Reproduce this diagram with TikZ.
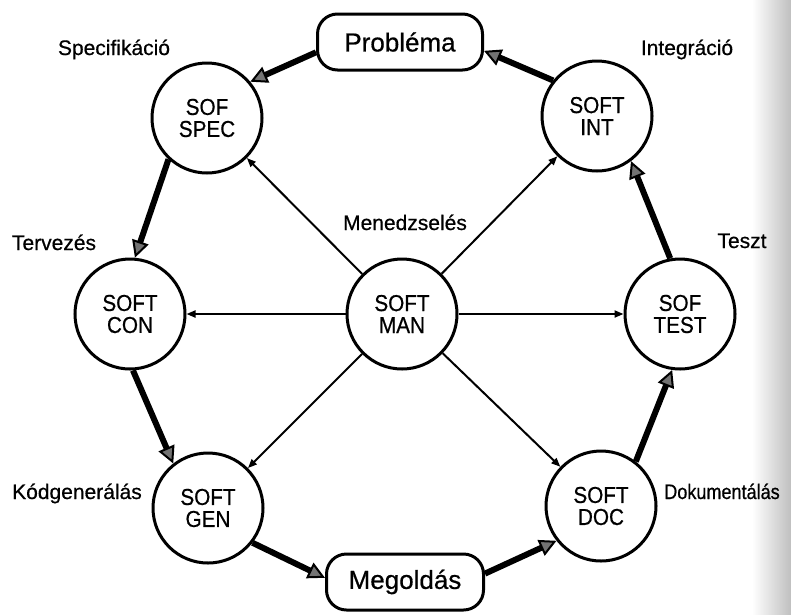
\documentclass[tikz,border=0pt]{standalone}
\usepackage{fontspec}
\setmainfont[FakeBold=0.6]{Liberation Sans}
\newfontfamily\circfont[FakeStretch=0.9,FakeBold=0.6]{Liberation Sans}
\newfontfamily\narrowfont[FakeStretch=0.86,FakeBold=0.6]{Liberation Sans}
\usetikzlibrary{arrows.meta}
\begin{document}
\begin{tikzpicture}[x=1pt,y=-1pt,
  phase/.style={circle, draw, fill=white, line width=3pt, minimum size=110pt, inner sep=0pt,
    align=center, font=\circfont\fontsize{23}{22}\selectfont},
  endbox/.style={rectangle, rounded corners=20pt, draw, fill=white, line width=3pt,
    minimum height=56pt, font=\fontsize{26}{30}\selectfont},
  tag/.style={anchor=base, font=\fontsize{21}{24}\selectfont},
  flow/.style={line width=6pt, -{Triangle[length=17pt,width=17pt,fill=black!55,line width=2pt]}},
  ctrl/.style={line width=2pt, -{Triangle[length=9pt,width=7pt]}},
]
\useasboundingbox (0,0) rectangle (791,614);
% worn paper edge on the right
\shade[left color=white, right color=black!25] (752,0) rectangle (791,614);

% start and end of the cycle
\node[endbox, minimum width=165pt] (prob) at (400,42) {Probléma};
\node[endbox, minimum width=157pt] (meg) at (405,582) {Megoldás};

% phases
\node[phase] (spec) at (207,118) {SOF\\SPEC};
\node[phase] (int)  at (597,116) {SOFT\\INT};
\node[phase] (con)  at (130,314) {SOFT\\CON};
\node[phase] (man)  at (402,314) {SOFT\\MAN};
\node[phase] (test) at (680,314) {SOF\\TEST};
\node[phase] (gen)  at (208,508) {SOFT\\GEN};
\node[phase] (doc)  at (601,506) {SOFT\\DOC};

% phase names
\node[tag] (lspec) at (114,55)  {Specifikáció};
\node[tag] (lcon)  at (54,250)  {Tervezés};
\node[tag] (lman)  at (405,230) {Menedzselés};
\node[tag] (lint)  at (687,55)  {Integráció};
\node[tag] (ltest) at (742,248) {Teszt};
\node[tag] (lgen)  at (77,499)  {Kódgenerálás};
\node[tag, font=\narrowfont\fontsize{21}{24}\selectfont] (ldoc) at (722,499) {Dokumentálás};

% main flow
\draw[flow] (prob.187) -- (spec.40);
\draw[flow] (spec.227) -- (con.85);
\draw[flow] (con.273)  -- (gen.128);
\draw[flow] (gen.322)  -- (meg.177);
\draw[flow] (meg.6)    -- (doc.218);
\draw[flow] (doc.52)   -- (test.262);
\draw[flow] (test.100) -- (int.307);
\draw[flow] (int.141)  -- (prob.354);

% management links
\foreach \t in {spec,int,con,test,gen,doc}
  \draw[ctrl] (man) -- (\t);
\end{tikzpicture}
\end{document}
